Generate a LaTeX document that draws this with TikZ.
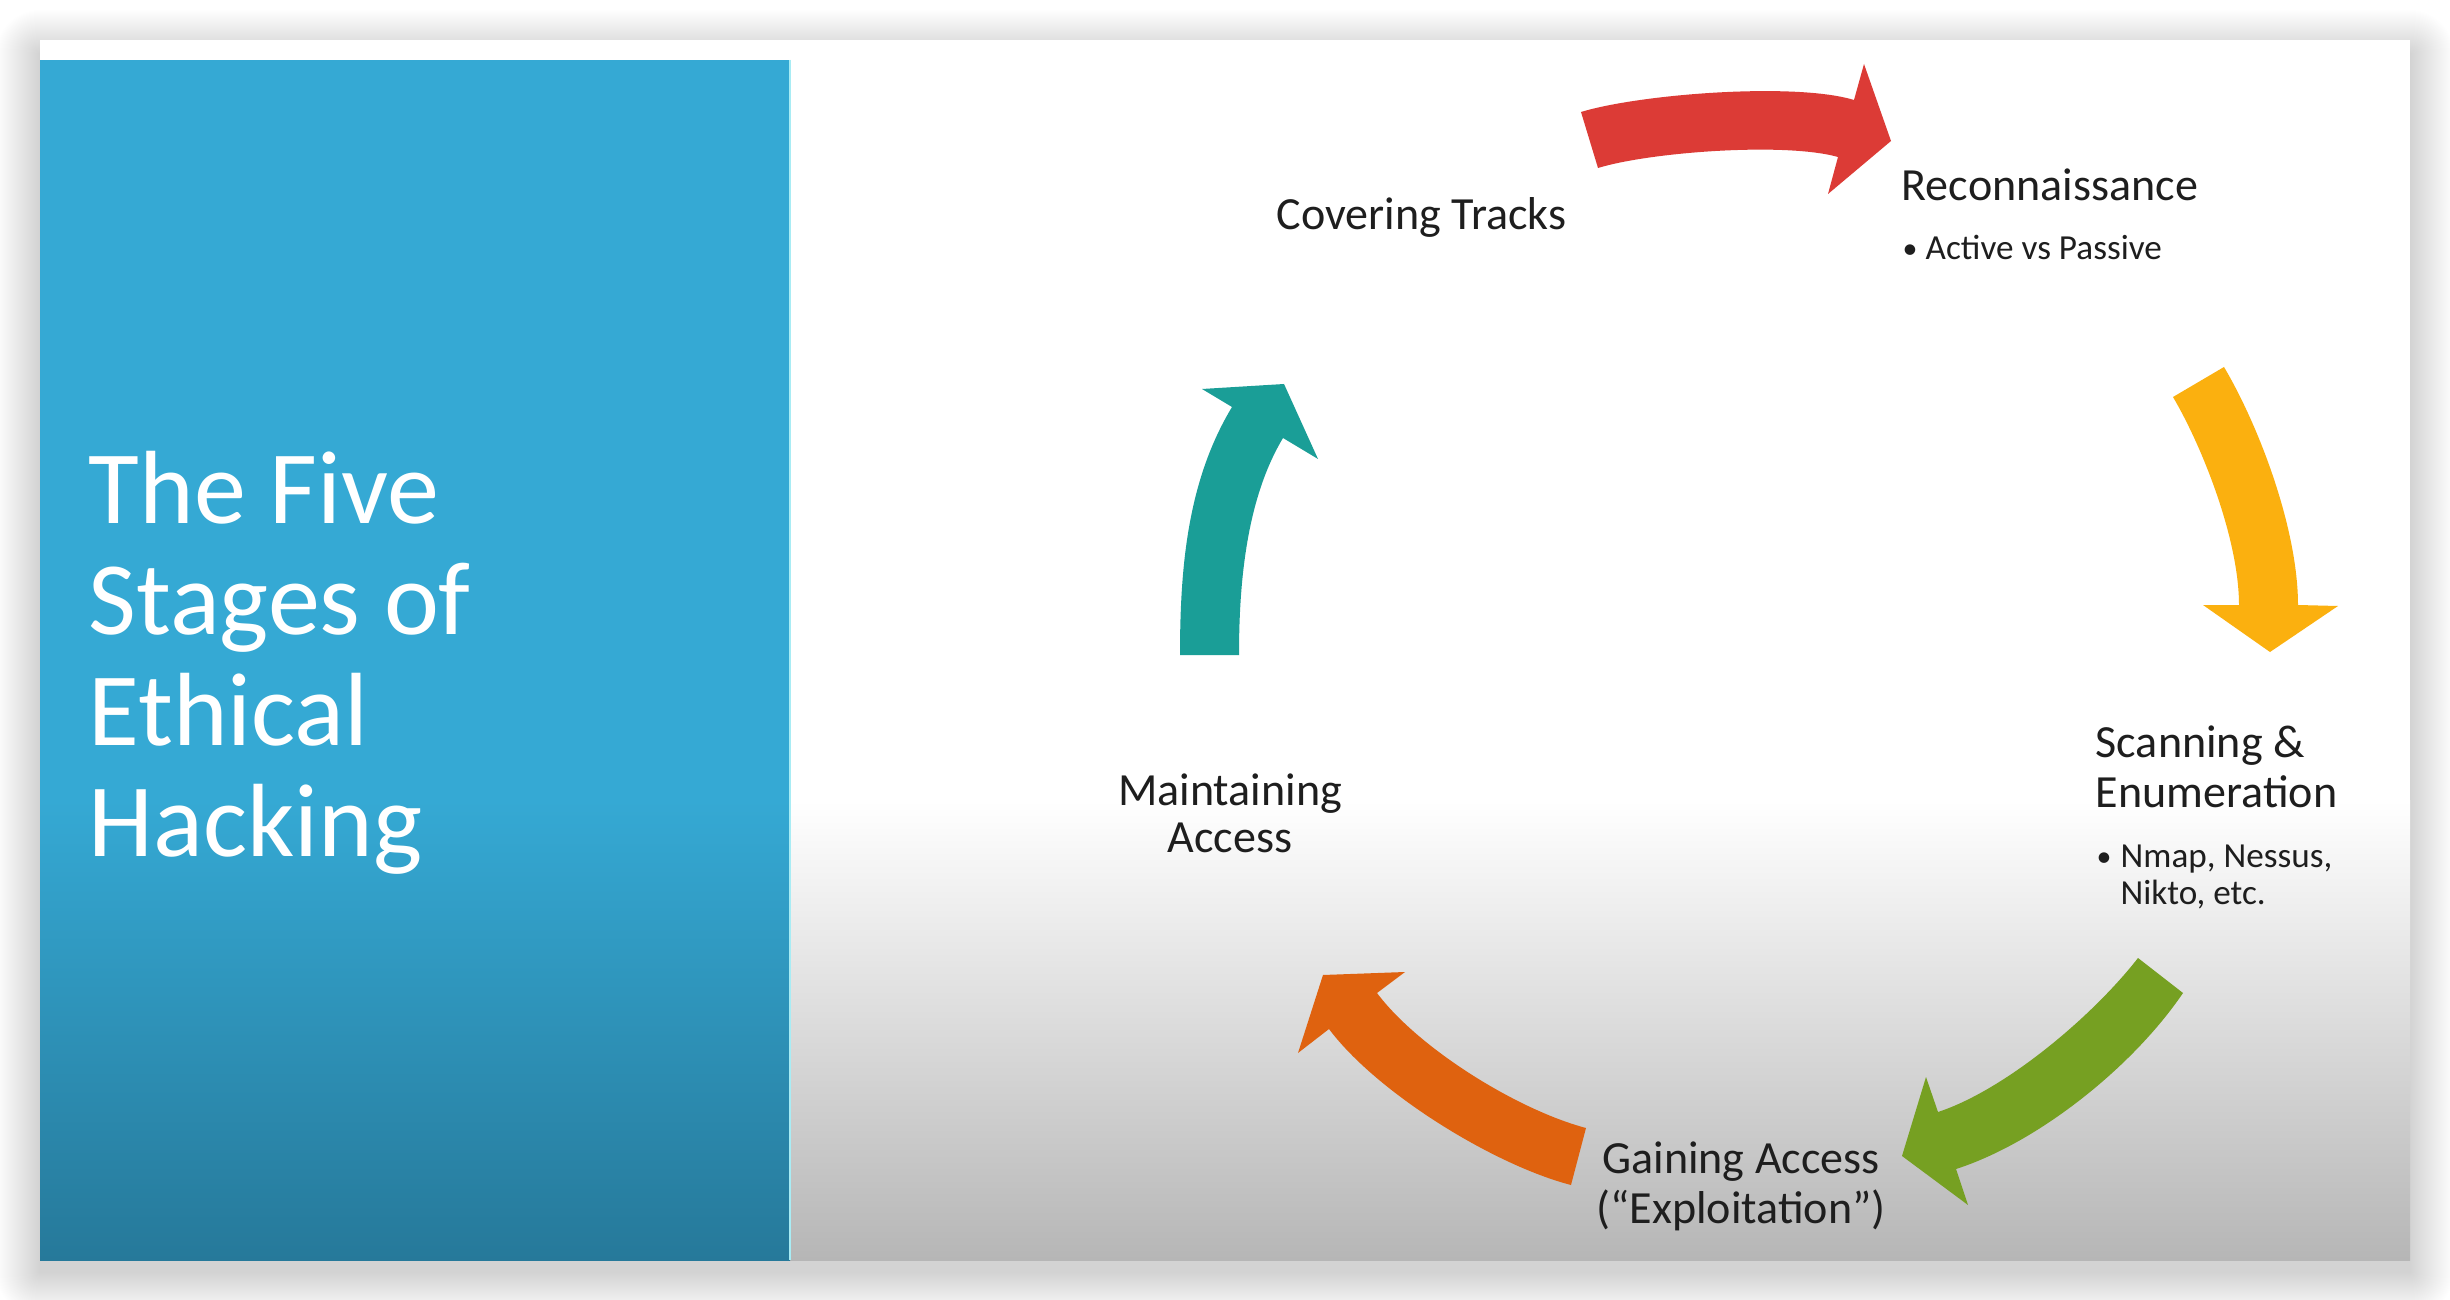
\documentclass[tikz,border=0pt]{standalone}
\usepackage{fontspec}
\setmainfont{Carlito}
\begin{document}
\begin{tikzpicture}[x=0.01cm,y=-0.01cm,line join=miter]
  \definecolor{panelblue}{HTML}{35A9D4}
  \definecolor{panelbluedark}{HTML}{26799A}
  \definecolor{panelrim}{HTML}{A8ECF4}
  \definecolor{floorgray}{HTML}{B6B6B6}
  \definecolor{ink}{HTML}{1E1E1E}
  \definecolor{redarrow}{HTML}{DC3B36}
  \definecolor{yellowarrow}{HTML}{FBB00F}
  \definecolor{greenarrow}{HTML}{76A022}
  \definecolor{orangearrow}{HTML}{DF620F}
  \definecolor{tealarrow}{HTML}{1A9E97}
  \tikzset{
    stage/.style={font=\fontsize{13.1}{15}\selectfont, text=ink, inner sep=0pt},
    detail/.style={font=\fontsize{10}{12}\selectfont, text=ink, inner sep=0pt, anchor=base west},
    dot/.style={font=\fontsize{8.5}{12}\selectfont, text=ink, inner sep=0pt, anchor=base west},
    heading/.style={font=\fontsize{29.6}{31}\selectfont, text=white, inner sep=0pt, anchor=base west},
  }
  \useasboundingbox (0,0) rectangle (2450,1300);
  \fill[white] (0,0) rectangle (2450,1300);

  % soft drop shadow around the slide, heavier below
  \foreach \r in {1,...,44}{
    \fill[black, opacity=0.0048, rounded corners={\r*0.2845pt}]
      (40-\r,54-\r) rectangle (2410+\r,1272+\r);
  }

  % slide body
  \fill[white] (40,40) rectangle (2410,1260);
  \shade[top color=white, bottom color=floorgray] (790,800) rectangle (2410,1260);

  % blue title panel
  \fill[panelblue] (40,60) rectangle (790,801);
  \shade[top color=panelblue, bottom color=panelbluedark] (40,800) rectangle (790,1260);
  \draw[panelrim, line width=0.6pt] (790,60) -- (790,1260);

  % title
  \node[heading] (t1) at (88,523) {The Five};
  \node[heading] (t2) at (88,634) {Stages of};
  \node[heading] (t3) at (88,745) {Ethical};
  \node[heading] (t4) at (88,856) {Hacking};

  % curved block arrows of the cycle
  \fill[redarrow] (1581,112) .. controls (1640,94) and (1795,82) .. (1854,100)
    -- (1864,64) -- (1891,141) -- (1828,194) -- (1838,157)
    .. controls (1785,142) and (1650,152) .. (1598,168) -- cycle;
  \fill[yellowarrow] (2224,367) -- (2173,397)
    .. controls (2203,448) and (2239,540) .. (2239,605)
    -- (2203,605) -- (2270,652) -- (2338,606) -- (2298,605)
    .. controls (2298,530) and (2260,428) .. (2224,367) -- cycle;
  \fill[greenarrow] (2138,958) .. controls (2092,1017) and (2005,1090) .. (1938,1112)
    -- (1926,1077) -- (1902,1156) -- (1968,1205) -- (1956,1169)
    .. controls (2037,1143) and (2132,1068) .. (2183,993) -- cycle;
  \fill[orangearrow] (1586,1128) .. controls (1518,1110) and (1419,1049) .. (1377,993)
    -- (1405,972) -- (1323,975) -- (1298,1053) -- (1329,1029)
    .. controls (1377,1093) and (1494,1165) .. (1571,1185) -- cycle;
  \fill[tealarrow] (1180,655) .. controls (1180,565) and (1188,480) .. (1232,407)
    -- (1202,389) -- (1284,384) -- (1318,459) -- (1283,438)
    .. controls (1247,498) and (1239,580) .. (1239,655) -- cycle;

  % stage labels
  \node[stage, anchor=base west] (covering) at (1276,230) {Covering Tracks};
  \node[stage, anchor=base west] (recon) at (1901,201) {Reconnaissance};
  \node[dot] (reconbullet) at (1902,259) {•};
  \node[detail] (recondetail) at (1925,260) {Active vs Passive};
  \node[stage, anchor=base west] (scanA) at (2095,757) {Scanning \&};
  \node[stage, anchor=base west] (scanB) at (2095,807) {Enumeration};
  \node[dot] (scanbullet) at (2096,866) {•};
  \node[detail] (scandetailA) at (2120,867) {Nmap, Nessus,};
  \node[detail] (scandetailB) at (2120,904) {Nikto, etc.};
  \node[stage, anchor=base] (gainA) at (1741,1173) {Gaining Access};
  \node[stage, anchor=base] (gainB) at (1741,1223) {(“Exploitation”)};
  \node[stage, anchor=base] (maintA) at (1230,805) {Maintaining};
  \node[stage, anchor=base] (maintB) at (1230,852) {Access};
\end{tikzpicture}
\end{document}
